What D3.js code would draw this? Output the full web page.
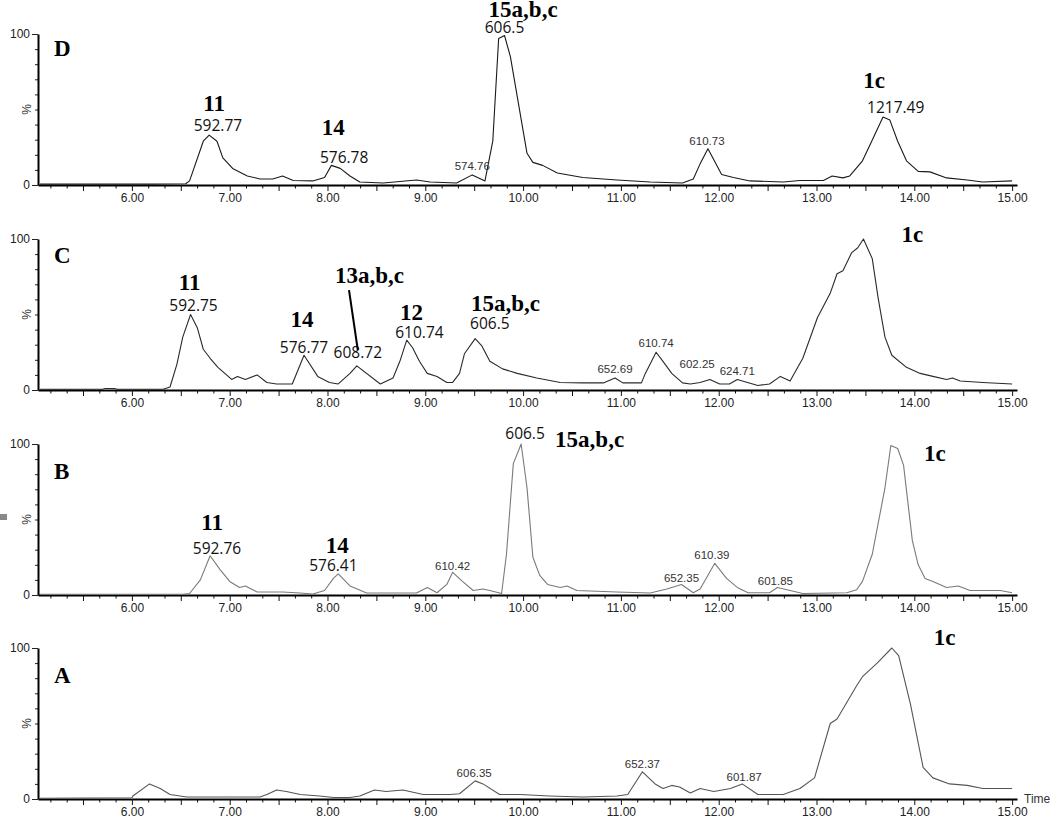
<!DOCTYPE html>
<html>
<head>
<meta charset="utf-8">
<script src="https://cdn.jsdelivr.net/npm/d3@7"></script>
<style>
  body { margin: 0; background: #fff; }
  .tick text { font-family: "Liberation Sans", Arial, sans-serif; font-size: 12px; fill: #222; }
  .bold { font-family: "Liberation Serif", "Times New Roman", serif; font-weight: bold; font-size: 23px; fill: #000; }
  .mass { font-family: "Open Sans", "Liberation Sans", sans-serif; font-size: 15.5px; fill: #111; }
  .small { font-family: "Liberation Sans", Arial, sans-serif; font-size: 11.5px; fill: #333; }
</style>
</head>
<body>
<div id="chart"></div>
<script>
// traces, [time (min), relative intensity (%)]
var traceD = [[5.06,0.6],[5.5,0.6],[6.2,0.6],[6.55,0.8],[6.59,2.7],[6.73,29],[6.79,33],[6.87,29],[6.93,18],[7.03,11],[7.18,6],[7.31,4],[7.44,4],[7.54,6],[7.65,3],[7.85,2.7],[7.97,5],[8.04,13],[8.13,11],[8.23,6],[8.33,2],[8.57,1.3],[8.91,3.3],[9.05,2],[9.32,1.3],[9.48,6.7],[9.61,2.7],[9.69,29],[9.75,97],[9.81,99],[9.87,85],[10.04,21],[10.10,15],[10.20,13],[10.35,8],[10.61,5],[10.96,3.3],[11.3,2],[11.63,1.3],[11.74,4],[11.81,14],[11.89,24],[12.03,7],[12.15,5],[12.32,2.7],[12.66,2],[12.83,3],[13.07,3],[13.16,6],[13.27,4.7],[13.34,6],[13.47,16],[13.55,27],[13.68,45],[13.75,43],[13.83,29],[13.92,16],[14.04,9],[14.16,8.7],[14.33,4.7],[14.54,3.3],[14.70,2],[15.0,2.7]];
var traceC = [[5.06,0.5],[5.7,0.5],[5.73,1],[5.82,1],[5.85,0.5],[6.32,0.5],[6.39,2],[6.46,17],[6.52,35],[6.60,50],[6.67,41],[6.73,27],[6.80,21],[6.88,15],[7.02,7],[7.08,9],[7.16,7],[7.28,10],[7.38,5],[7.48,4],[7.64,4],[7.76,23],[7.90,9],[8.02,5],[8.11,4],[8.23,11],[8.30,16],[8.54,4],[8.67,8],[8.74,19],[8.81,33],[8.87,28],[8.94,19],[9.02,11],[9.12,9],[9.17,7],[9.22,5],[9.28,5],[9.35,11],[9.40,24],[9.51,34],[9.58,29],[9.66,19],[9.79,14],[9.94,11],[10.14,8],[10.38,5],[10.61,4.7],[10.82,4.7],[10.94,8],[11.02,4.7],[11.21,4.7],[11.25,11],[11.36,25],[11.43,19],[11.52,11],[11.63,4.7],[11.71,4],[11.81,5],[11.91,7],[12.01,4],[12.11,4],[12.19,7],[12.40,3],[12.52,4],[12.63,9],[12.73,6],[12.86,21],[13.01,48],[13.14,64],[13.21,77],[13.27,79],[13.36,91],[13.42,94],[13.48,100],[13.57,87],[13.63,61],[13.70,35],[13.77,23],[13.92,15],[14.06,11],[14.19,9],[14.33,7],[14.39,8],[14.47,6],[14.70,5],[15.0,4]];
var traceB = [[5.06,0.5],[6.52,0.5],[6.59,1],[6.70,10],[6.80,26],[6.90,17],[7.00,9],[7.10,5],[7.16,6],[7.28,2],[7.54,2],[7.72,1.3],[7.85,0.7],[7.97,3],[8.06,11],[8.11,14],[8.23,6],[8.40,1.3],[8.91,1.3],[9.02,5],[9.12,1.5],[9.22,7],[9.28,15],[9.38,9],[9.49,3],[9.59,4],[9.66,3],[9.78,1],[9.83,27],[9.90,87],[9.98,100],[10.04,71],[10.10,25],[10.17,13],[10.25,7],[10.38,5],[10.45,6],[10.55,3],[10.96,2],[11.30,1.3],[11.47,4],[11.62,7],[11.74,1.5],[11.81,4],[11.96,21],[12.08,11],[12.19,5],[12.30,1.5],[12.52,1.5],[12.60,5],[12.73,3],[12.86,1],[13.31,1.5],[13.41,3.5],[13.47,9],[13.57,27],[13.65,54],[13.70,71],[13.76,99],[13.83,97],[13.89,86],[13.98,36],[14.04,20],[14.11,11],[14.19,9],[14.33,5],[14.45,6],[14.57,3],[14.88,3],[15.0,1.5]];
var traceA = [[5.06,0.5],[6.0,0.8],[6.01,2],[6.18,10],[6.29,7],[6.39,3],[6.56,1.3],[7.31,1.3],[7.38,3],[7.48,6],[7.58,5],[7.72,3],[7.92,2],[8.06,1],[8.23,1],[8.33,2],[8.48,6],[8.60,5],[8.77,6],[8.98,3],[9.25,3],[9.35,3.5],[9.51,12],[9.59,10],[9.76,3],[9.97,3],[10.27,2],[10.61,1.3],[10.96,2],[11.07,3],[11.22,18],[11.35,10],[11.43,7],[11.52,9],[11.60,8],[11.71,4],[11.81,7],[11.95,5],[12.12,7],[12.24,10],[12.40,3],[12.66,3],[12.83,7],[12.98,14],[13.14,50],[13.21,53],[13.41,75],[13.47,81],[13.62,90],[13.77,100],[13.84,95],[13.96,63],[14.09,21],[14.19,14],[14.36,10],[14.54,9],[14.70,7],[15.0,7]];

// peak labels: [time, %, text, kind]
var labelsD = [[6.84,49,"11","bold"],[6.88,35.8,"592.77","mass"],[8.06,33,"14","bold"],[8.17,14.6,"576.78","mass"],[9.48,9.9,"574.76","small"],[10.0,111,"15a,b,c","bold"],[9.81,100.7,"606.5","mass"],[11.88,26.5,"610.73","small"],[13.59,64,"1c","bold"],[13.81,48,"1217.49","mass"]];
var labelsC = [[6.59,66,"11","bold"],[6.63,52.3,"592.75","mass"],[7.74,41.7,"14","bold"],[7.76,24.5,"576.77","mass"],[8.43,70.9,"13a,b,c","bold"],[8.31,21.2,"608.72","mass"],[8.86,46.4,"12","bold"],[8.94,34.4,"610.74","mass"],[9.82,52.5,"15a,b,c","bold"],[9.66,40.6,"606.5","mass"],[10.94,11.3,"652.69","small"],[11.36,28.5,"610.74","small"],[11.78,14.6,"602.25","small"],[12.19,9.9,"624.71","small"],[13.98,98,"1c","bold"]];
var labelsB = [[6.82,43,"11","bold"],[6.87,27.2,"592.76","mass"],[8.10,28,"14","bold"],[8.06,15.6,"576.41","mass"],[9.28,16.6,"610.42","small"],[10.02,103,"606.5","mass"],[10.68,98,"15a,b,c","bold"],[11.62,8.6,"652.35","small"],[11.93,23.8,"610.39","small"],[12.58,6.6,"601.85","small"],[14.21,88.7,"1c","bold"]];
var labelsA = [[9.50,14.6,"606.35","small"],[11.22,20.5,"652.37","small"],[12.26,11.9,"601.87","small"],[14.31,102,"1c","bold"]];

var panels = [
  { name: "D", trace: traceD, labels: labelsD, color: "#1a1a1a" },
  { name: "C", trace: traceC, labels: labelsC, color: "#2a2a2a" },
  { name: "B", trace: traceB, labels: labelsB, color: "#7a7a7a" },
  { name: "A", trace: traceA, labels: labelsA, color: "#555" }
];

var width = 1050, height = 817;
var tops = [34, 239, 444, 648], ph = 151;
var letterDy = [22, 24, 35, 35];

var svg = d3.select("#chart").append("svg")
    .attr("width", width)
    .attr("height", height);

var x = d3.scaleLinear().domain([5.04, 15.05]).range([38, 1017]);

var majors = d3.range(6, 16);
var minors = d3.range(31, 91).map(function (k) { return k / 6; })
    .filter(function (t) { return Math.abs(t - Math.round(t)) > 0.01; });

panels.forEach(function (p, i) {
    var y = d3.scaleLinear().domain([0, 100]).range([tops[i] + ph, tops[i]]);
    var g = svg.append("g");

    // minor x ticks (every 10 s)
    g.append("g")
        .attr("transform", "translate(0," + y(0) + ")")
        .call(d3.axisBottom(x).tickValues(minors).tickSizeOuter(0).tickFormat(""))
        .call(function (s) {
            s.select(".domain").remove();
            s.selectAll(".tick line")
                .attr("y2", function (d) { return Math.abs(d * 2 - Math.round(d * 2)) < 0.01 ? 6 : 3.5; })
                .attr("stroke", "#111");
        });

    var xa = g.append("g")
        .attr("transform", "translate(0," + y(0) + ")")
        .call(d3.axisBottom(x).tickValues(majors).tickSize(6).tickSizeOuter(0).tickFormat(d3.format(".2f")));
    xa.select(".domain").attr("stroke", "#000").attr("stroke-width", 1.8);
    xa.selectAll(".tick line").attr("stroke", "#111");
    xa.selectAll(".tick text").attr("y", 8);

    // y axis
    g.append("g")
        .attr("transform", "translate(38,0)")
        .call(d3.axisLeft(y).tickValues(d3.range(10, 100, 10)).tickFormat("").tickSizeOuter(0))
        .call(function (s) {
            s.select(".domain").remove();
            s.selectAll(".tick line").attr("x2", -3).attr("stroke", "#222");
        });
    var ya = g.append("g")
        .attr("transform", "translate(38,0)")
        .call(d3.axisLeft(y).tickValues([0, 100]).tickSize(6).tickSizeOuter(0).tickPadding(2));
    ya.select(".domain").attr("stroke", "#000").attr("stroke-width", 2);
    ya.selectAll(".tick line").attr("stroke", "#222");

    g.append("text")
        .attr("class", "small")
        .attr("transform", "translate(31," + y(50) + ") rotate(-90)")
        .attr("text-anchor", "middle")
        .style("font-size", "12px")
        .text("%");

    g.append("path")
        .datum(p.trace)
        .attr("fill", "none")
        .attr("stroke", p.color)
        .attr("stroke-width", 1.1)
        .attr("stroke-linejoin", "round")
        .attr("d", d3.line()
            .x(function (d) { return x(d[0]); })
            .y(function (d) { return y(d[1]); }));

    g.append("text")
        .attr("class", "bold")
        .attr("x", 54)
        .attr("y", tops[i] + letterDy[i])
        .text(p.name);

    g.selectAll(".lab")
        .data(p.labels)
        .enter().append("text")
        .attr("class", function (d) { return d[3]; })
        .attr("text-anchor", "middle")
        .attr("x", function (d) { return x(d[0]); })
        .attr("y", function (d) { return y(d[1]); })
        .text(function (d) { return d[2]; });

    // leader for 13a,b,c
    if (p.name === "C") {
        g.append("line")
            .attr("x1", x(8.22)).attr("y1", y(66.2))
            .attr("x2", x(8.31)).attr("y2", y(26.5))
            .attr("stroke", "#000")
            .attr("stroke-width", 2);
    }
});

svg.append("text")
    .attr("class", "small")
    .attr("x", 1024)
    .attr("y", 803)
    .style("font-size", "12px")
    .text("Time");

// stray mark at left edge of the scan
svg.append("rect")
    .attr("x", 0).attr("y", 514)
    .attr("width", 7).attr("height", 6)
    .attr("fill", "#888");
</script>
</body>
</html>
